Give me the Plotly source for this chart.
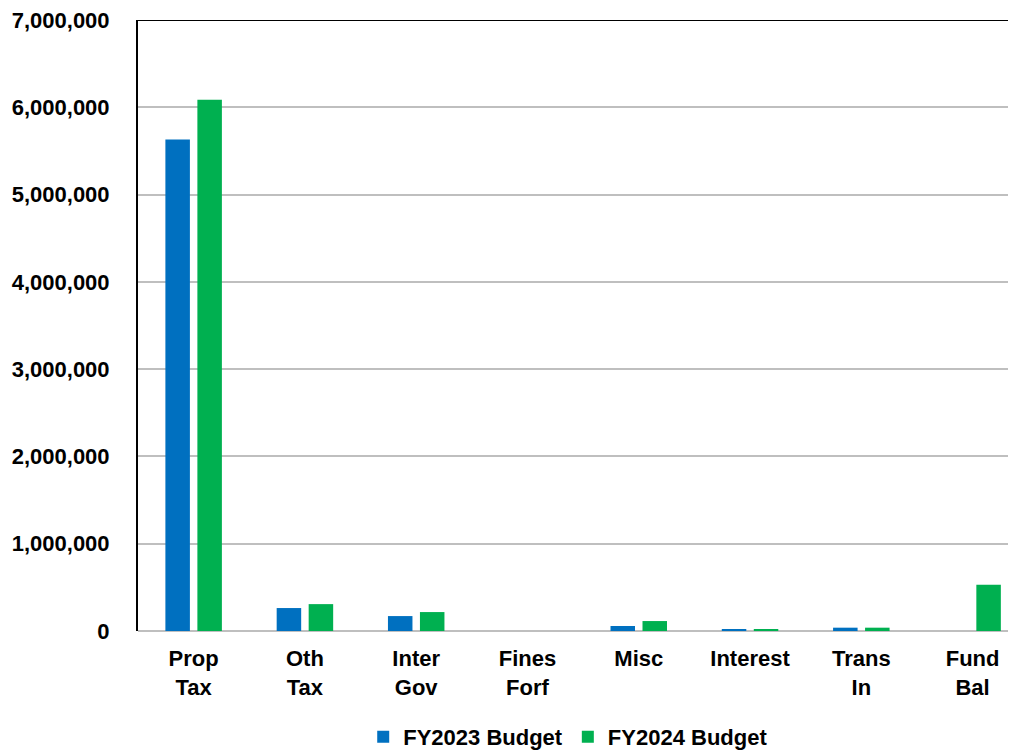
import plotly.graph_objects as go

categories = ["Prop<br>Tax", "Oth<br>Tax", "Inter<br>Gov", "Fines<br>Forf", "Misc", "Interest", "Trans<br>In", "Fund<br>Bal"]
fy2023 = [5630000, 263000, 171000, 0, 57000, 23000, 38000, 0]
fy2024 = [6085000, 308000, 217000, 0, 114000, 23000, 38000, 529000]
y_ticks = [0, 1000000, 2000000, 3000000, 4000000, 5000000, 6000000, 7000000]

FONT = "Liberation Sans, Arial, sans-serif"

fig = go.Figure()
fig.add_trace(go.Bar(name="FY2023 Budget", x=list(range(len(categories))), y=fy2023,
                     marker=dict(color="#0070C0", line=dict(width=0))))
fig.add_trace(go.Bar(name="FY2024 Budget", x=list(range(len(categories))), y=fy2024,
                     marker=dict(color="#00B050", line=dict(width=0))))

fig.update_layout(
    width=1008, height=744,
    margin=dict(l=130, r=0, t=12, b=121, autoexpand=False),
    plot_bgcolor="white", paper_bgcolor="white",
    barmode="group", bargap=0.425, bargroupgap=0.234,
    font=dict(family=FONT, size=22, color="black", weight="bold"),
    showlegend=True,
    legend=dict(orientation="h", x=0.49, xanchor="center", y=-0.1735, yanchor="middle",
                font=dict(family=FONT, size=22, color="black", weight="bold"),
                itemwidth=30, traceorder="normal"),
    xaxis=dict(tickmode="array", tickvals=list(range(len(categories))), ticktext=categories,
               range=[-0.5, 7.39], showgrid=False, showline=False, zeroline=False,
               automargin=False,
               tickfont=dict(family=FONT, size=22, color="black", weight="bold"),
               ticks="", ticklabelstandoff=12),
    yaxis=dict(range=[0, 7000000], tickvals=y_ticks, tickformat=",d",
               showgrid=True, gridcolor="#BFBFBF", gridwidth=2,
               zeroline=True, zerolinecolor="#BFBFBF", zerolinewidth=2,
               showline=True, linecolor="black", linewidth=2,
               automargin=False, ticklabeloverflow="allow",
               ticks="", ticklabelstandoff=22,
               tickfont=dict(family=FONT, size=22, color="black", weight="bold")),
)
fig.add_shape(type="line", xref="paper", yref="y", x0=0, x1=1, y0=7000000, y1=7000000,
              line=dict(color="black", width=2))

fig.write_html("out.html")
